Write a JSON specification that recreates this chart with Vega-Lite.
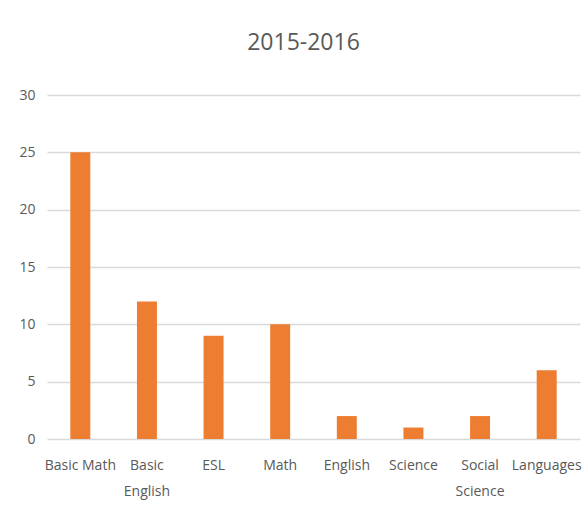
{
  "$schema": "https://vega.github.io/schema/vega-lite/v6.json",
  "autosize": "none",
  "width": 533,
  "height": 344,
  "padding": {"left": 47, "top": 95, "right": 8, "bottom": 77},
  "background": "white",
  "title": {"text": "2015-2016", "fontSize": 23, "font": "Open Sans", "fontWeight": "normal", "color": "#595959", "offset": 33, "dx": -10, "anchor": "middle"},
  "data": {"values": [
    {"subject": "Basic Math", "count": 25},
    {"subject": "Basic English", "count": 12},
    {"subject": "ESL", "count": 9},
    {"subject": "Math", "count": 10},
    {"subject": "English", "count": 2},
    {"subject": "Science", "count": 1},
    {"subject": "Social Science", "count": 2},
    {"subject": "Languages", "count": 6}
  ]},
  "mark": {"type": "bar", "color": "#ED7D31"},
  "encoding": {
    "x": {"field": "subject", "type": "nominal", "sort": null, "title": null,
      "scale": {"paddingInner": 0.7, "paddingOuter": 0.35},
      "axis": {"labelAngle": 0, "ticks": false, "domain": false, "labelPadding": 19, "labelFontSize": 14, "labelFont": "Open Sans", "labelColor": "#595959", "labelLineHeight": 26,
        "labelExpr": "datum.value == 'Basic English' ? ['Basic', 'English'] : datum.value == 'Social Science' ? ['Social', 'Science'] : datum.value"}},
    "y": {"field": "count", "type": "quantitative", "title": null,
      "scale": {"domain": [0, 30]},
      "axis": {"values": [0, 5, 10, 15, 20, 25, 30], "ticks": false, "domain": false, "labelPadding": 12, "labelFontSize": 14, "labelFont": "Open Sans", "labelColor": "#595959", "gridColor": "#d9d9d9", "gridWidth": 1.5}}
  },
  "config": {"view": {"stroke": null}}
}
